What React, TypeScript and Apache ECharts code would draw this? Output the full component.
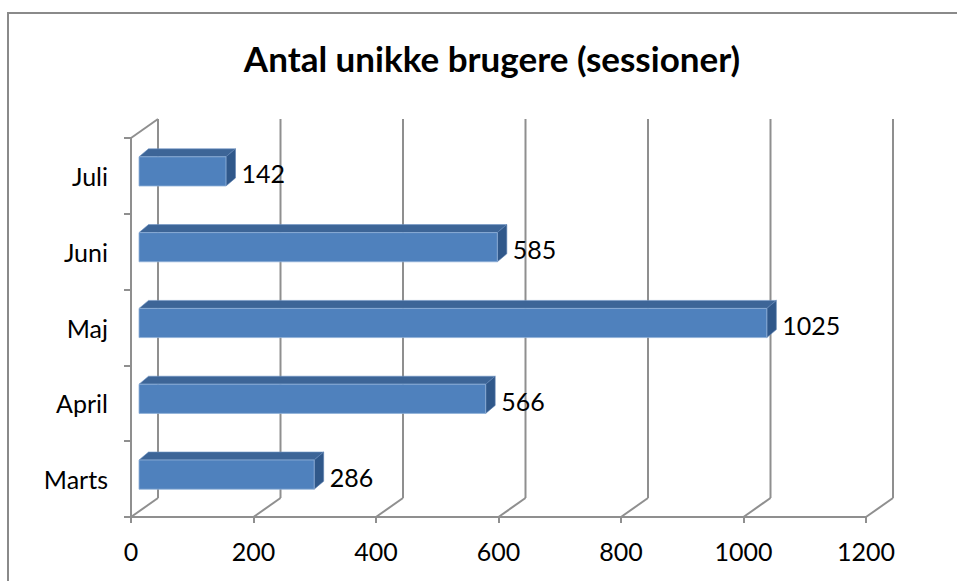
import React, { useEffect, useRef } from "react";
import * as echarts from "echarts";

const categories = ["Marts", "April", "Maj", "Juni", "Juli"];
const values = [286, 566, 1025, 585, 142];
const xTicks = [0, 200, 400, 600, 800, 1000, 1200];
const titleText = "Antal unikke brugere (sessioner)";

const FONT = "Lato, 'Open Sans', sans-serif";
const GRID_COLOR = "#8f8f8f";
const BACK_DX = 27;
const BACK_DY = -19;

export default function App() {
  const ref = useRef<HTMLDivElement>(null);
  useEffect(() => {
    if (!ref.current) return;
    const chart = echarts.init(ref.current, undefined, { renderer: "svg" });
    const option: any = {
      animation: false,
      backgroundColor: "#ffffff",
      title: {
        text: titleText,
        left: 487,
        top: 35,
        textAlign: "center",
        textStyle: { fontFamily: FONT, fontWeight: "bold", fontSize: 35, color: "#000" },
      },
      graphic: [
        {
          type: "rect",
          shape: { x: 8, y: 13, width: 1000, height: 1000 },
          style: { fill: "none", stroke: "#8a8a8a", lineWidth: 2 },
          silent: true,
        },
      ],
      grid: { left: 131, right: 91, top: 138, bottom: 64 },
      xAxis: {
        type: "value",
        min: 0,
        max: 1200,
        interval: 200,
        axisLine: { show: true, lineStyle: { color: GRID_COLOR, width: 2 } },
        axisTick: { show: true, length: 6, lineStyle: { color: GRID_COLOR, width: 2 } },
        splitLine: { show: false },
        axisLabel: {
          fontFamily: FONT,
          fontSize: 25,
          color: "#000",
          margin: 21,
          formatter: (v: number) => String(v),
        },
      },
      yAxis: {
        type: "category",
        data: categories,
        boundaryGap: true,
        axisLine: { show: true, lineStyle: { color: GRID_COLOR, width: 2 } },
        axisTick: { show: true, length: 7, lineStyle: { color: GRID_COLOR, width: 2 } },
        splitLine: { show: false },
        axisLabel: { fontFamily: FONT, fontSize: 25, color: "#000", margin: 23 },
      },
      series: [
        {
          type: "custom",
          name: "grid3d",
          z: 1,
          silent: true,
          data: xTicks.map((v) => [v, 0]),
          renderItem: (params: any, api: any) => {
            const v = api.value(0);
            const p = api.coord([v, 0]);
            const cs = params.coordSys;
            const x = p[0];
            const yBot = cs.y + cs.height;
            const yTop = cs.y;
            const children: any[] = [
              {
                type: "line",
                shape: { x1: x, y1: yBot, x2: x + BACK_DX, y2: yBot + BACK_DY },
                style: { stroke: GRID_COLOR, lineWidth: 2 },
              },
              {
                type: "line",
                shape: { x1: x + BACK_DX, y1: yBot + BACK_DY, x2: x + BACK_DX, y2: yTop + BACK_DY },
                style: { stroke: GRID_COLOR, lineWidth: 2 },
              },
            ];
            if (v === 0) {
              children.push({
                type: "line",
                shape: { x1: x, y1: yTop, x2: x + BACK_DX, y2: yTop + BACK_DY },
                style: { stroke: GRID_COLOR, lineWidth: 2 },
              });
            }
            return { type: "group", children };
          },
        },
        {
          type: "custom",
          name: "Brugere",
          z: 5,
          data: values.map((v, i) => [v, i]),
          renderItem: (params: any, api: any) => {
            const val = api.value(0);
            const idx = api.value(1);
            const s = api.coord([0, idx]);
            const e = api.coord([val, idx]);
            const band = api.size([0, 1])[1];
            const h = band * 0.385;
            const fx = 8;
            const fy = -4.5;
            const dx = 9.5;
            const dy = -8;
            const x0 = s[0] + fx;
            const x1 = e[0] + fx;
            const yc = s[1] + fy;
            const top = yc - h / 2;
            const bot = yc + h / 2;
            return {
              type: "group",
              children: [
                {
                  type: "polygon",
                  shape: { points: [[x0, top], [x0 + dx, top + dy], [x1 + dx, top + dy], [x1, top]] },
                  style: { fill: "#3d6597", stroke: "#6f93c4", lineWidth: 0.6 },
                },
                {
                  type: "polygon",
                  shape: { points: [[x1, top], [x1 + dx, top + dy], [x1 + dx, bot + dy], [x1, bot]] },
                  style: { fill: "#30588a", stroke: "#5c80b0", lineWidth: 0.6 },
                },
                {
                  type: "rect",
                  shape: { x: x0, y: top, width: x1 - x0, height: h },
                  style: { fill: "#4f81bd", stroke: "#8fb0d8", lineWidth: 0.8 },
                },
                {
                  type: "text",
                  x: x1 + dx + 6,
                  y: yc + 2,
                  style: {
                    text: String(val),
                    fontFamily: FONT,
                    fontSize: 25,
                    fill: "#000",
                    verticalAlign: "middle",
                    align: "left",
                  },
                },
              ],
            };
          },
        },
      ],
    };
    chart.setOption(option);
    return () => chart.dispose();
  }, []);
  return (
    <div
      ref={ref}
      style={{ position: "fixed", left: 0, top: 0, width: 957, height: 581, background: "#fff" }}
    />
  );
}
